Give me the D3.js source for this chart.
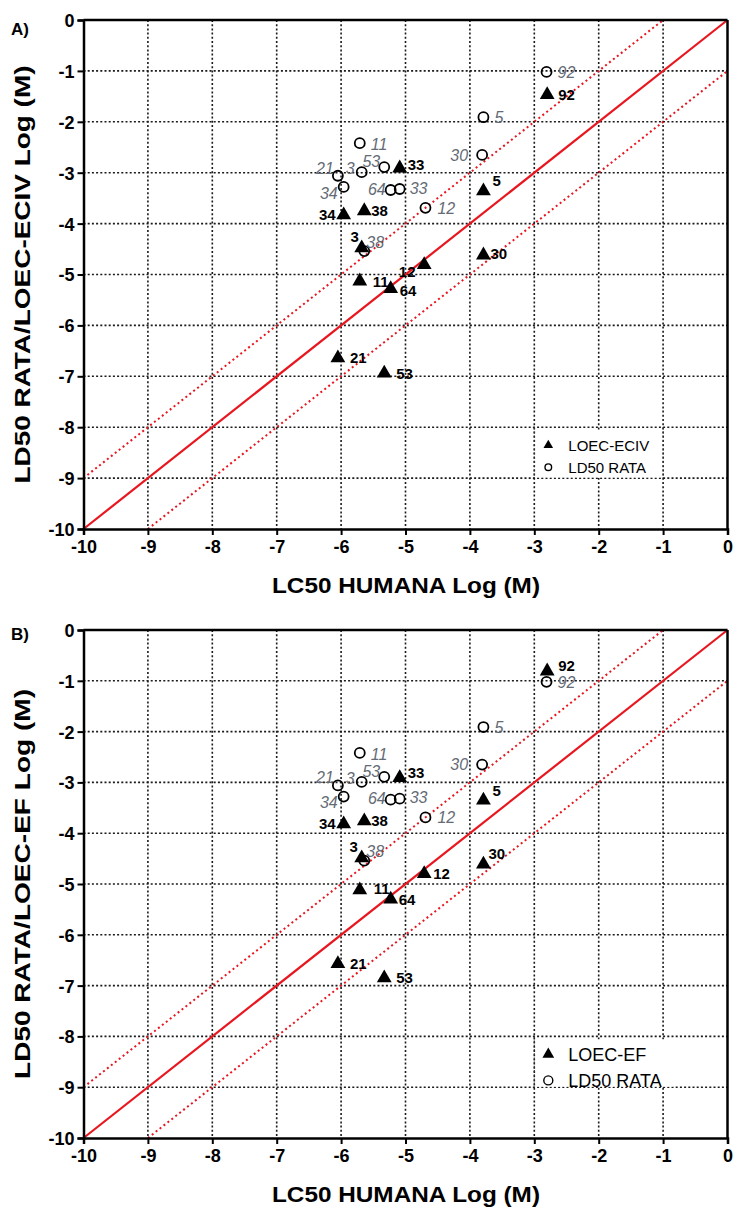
<!DOCTYPE html>
<html>
<head>
<meta charset="utf-8">
<script src="https://cdn.jsdelivr.net/npm/d3@7"></script>
<style>
  html, body { margin: 0; padding: 0; background: #fff; }
  svg { display: block; font-family: "Liberation Sans", Arial, sans-serif; }
</style>
</head>
<body>
<svg id="chart" width="736" height="1207"></svg>
<script>
// Compound identifiers
const compounds = ["92", "5", "33", "34", "38", "3", "12", "30", "11", "64", "21", "53"];

// LC50 human, log(M) — shared x values for both series
const lc50Human = [-2.80, -3.79, -5.09, -5.96, -5.64, -5.68, -4.71, -3.79, -5.71, -5.23, -6.05, -5.33];

// LD50 rat, log(M) (open circles, same in both panels)
const ld50RatX = [-2.81, -3.79, -5.09, -5.96, -5.64, -5.68, -4.69, -3.81, -5.71, -5.23, -6.05, -5.33];
const ld50Rat  = [-1.02, -1.91, -3.32, -3.28, -4.54, -2.99, -3.69, -2.65, -2.42, -3.34, -3.06, -2.89];

// Panel A: LOEC-ECIV, log(M)
const loecEciv = [-1.47, -3.36, -2.91, -3.83, -3.75, -4.48, -4.81, -4.62, -5.13, -5.28, -6.64, -6.94];
// Panel B: LOEC-EF, log(M)
const loecEf   = [-0.81, -3.35, -2.91, -3.82, -3.76, -4.49, -4.80, -4.61, -5.12, -5.30, -6.57, -6.85];

// Axis ticks
const axisTicks = [-10, -9, -8, -7, -6, -5, -4, -3, -2, -1, 0];

// Label offsets (dx, dy, anchor) for filled-triangle labels per panel
const triLabelA = {
  "92": [11, 0, "start"], "5": [9, -10, "start"], "33": [8, -4, "start"], "34": [-8, 0, "end"],
  "38": [7, 0, "start"], "3": [-7, -11, "middle"], "12": [-17, 7, "middle"], "30": [7, -2, "start"],
  "11": [13, 0, "start"], "64": [9, 1.5, "start"], "21": [12, 0, "start"], "53": [12, 0, "start"]
};
const triLabelB = {
  "92": [11, -6, "start"], "5": [9, -10, "start"], "33": [8, -5, "start"], "34": [-8, 0, "end"],
  "38": [7, 0, "start"], "3": [-8, -11, "middle"], "12": [9, 0, "start"], "30": [5, -11, "start"],
  "11": [14, -1, "start"], "64": [8, 0, "start"], "21": [12, 0, "start"], "53": [12, 0, "start"]
};
// Label offsets for open-circle labels
const circLabel = {
  "92": [11, 0, "start"], "5": [11, 0, "start"], "33": [10, -1, "start"], "34": [-6, 6, "end"],
  "38": [2, -9, "start"], "3": [-7, -4, "end"], "12": [12, 0, "start"], "30": [-14, 0, "end"],
  "11": [11, 1, "start"], "64": [-5, -1, "end"], "21": [-4, -8, "end"], "53": [-4, -6, "end"]
};

const svg = d3.select("#chart");

function drawPanel(cfg) {
  const x = d3.scaleLinear().domain([-10, 0]).range([83.5, 727.5]);
  const y = d3.scaleLinear().domain([-10, 0]).range([cfg.bottom, cfg.top]);
  const g = svg.append("g");

  // dotted grid
  const grid = g.append("g");
  grid.selectAll("line.v").data(axisTicks.slice(1, -1)).join("line")
    .attr("x1", d => x(d)).attr("x2", d => x(d))
    .attr("y1", y(0)).attr("y2", y(-10))
    .attr("stroke", "#1a1a1a").attr("stroke-width", 1.6).attr("stroke-dasharray", "2,2.2");
  grid.selectAll("line.h").data(axisTicks.slice(1, -1)).join("line")
    .attr("x1", x(-10)).attr("x2", x(0))
    .attr("y1", d => y(d)).attr("y2", d => y(d))
    .attr("stroke", "#1a1a1a").attr("stroke-width", 1.6).attr("stroke-dasharray", "2,2.2");

  // legend backdrop hides the grid behind it
  g.append("rect")
    .attr("x", x(-3) + 2).attr("y", y(-8) + 3)
    .attr("width", cfg.legendW).attr("height", y(-9) - y(-8) - 3.5)
    .attr("fill", "#fff");
  // thin grid lines kept across the legend backdrop
  g.append("line")
    .attr("x1", x(-3)).attr("x2", x(-3)).attr("y1", y(-8)).attr("y2", y(-9))
    .attr("stroke", "#333").attr("stroke-width", 1.2).attr("stroke-dasharray", "2,2.2");
  if (cfg.keepMinus1) {
    g.append("line")
      .attr("x1", x(-1)).attr("x2", x(-1)).attr("y1", y(-8)).attr("y2", y(-9))
      .attr("stroke", "#333").attr("stroke-width", 1.2).attr("stroke-dasharray", "2,2.2");
  }

  // identity line and ±1 log unit bands
  const red = "#e8161f";
  g.append("line")
    .attr("x1", x(-10)).attr("y1", y(-10)).attr("x2", x(0)).attr("y2", y(0))
    .attr("stroke", red).attr("stroke-width", 2.2);
  g.append("line")
    .attr("x1", x(-10)).attr("y1", y(-9)).attr("x2", x(-1)).attr("y2", y(0))
    .attr("stroke", red).attr("stroke-width", 2).attr("stroke-dasharray", "2,3");
  g.append("line")
    .attr("x1", x(-9)).attr("y1", y(-10)).attr("x2", x(0)).attr("y2", y(-1))
    .attr("stroke", red).attr("stroke-width", 2).attr("stroke-dasharray", "2,3");

  // frame top & right
  g.append("line").attr("x1", x(-10)).attr("x2", x(0)).attr("y1", y(0)).attr("y2", y(0))
    .attr("stroke", "#000").attr("stroke-width", 2.5);
  g.append("line").attr("x1", x(0)).attr("x2", x(0)).attr("y1", y(0)).attr("y2", y(-10))
    .attr("stroke", "#000").attr("stroke-width", 2.5);

  // axes
  const fmt = d => d3.format("d")(d).replace("\u2212", "-");
  const ax = g.append("g").attr("transform", `translate(0,${y(-10)})`)
    .call(d3.axisBottom(x).tickValues(axisTicks).tickSize(6).tickPadding(5).tickFormat(fmt));
  const ay = g.append("g").attr("transform", `translate(${x(-10)},0)`)
    .call(d3.axisLeft(y).tickValues(axisTicks).tickSize(6).tickPadding(3).tickFormat(fmt));
  [ax, ay].forEach(a => {
    a.select(".domain").attr("stroke", "#000").attr("stroke-width", 2.5);
    a.selectAll(".tick line").attr("stroke", "#000").attr("stroke-width", 2);
    a.selectAll(".tick text").attr("fill", "#000")
      .style("font-family", "'Liberation Sans', Arial, sans-serif")
      .style("font-size", "18px").style("font-weight", "bold");
  });
  ay.selectAll(".tick text").attr("dy", "0.36em");

  // axis titles
  g.append("text")
    .attr("x", 406).attr("y", y(-10) + 64)
    .attr("text-anchor", "middle").attr("font-size", 22).attr("font-weight", "bold")
    .attr("textLength", 268).attr("lengthAdjust", "spacingAndGlyphs")
    .text("LC50 HUMANA Log (M)");
  g.append("text")
    .attr("transform", `translate(30,${(y(0) + y(-10)) / 2}) rotate(-90)`)
    .attr("text-anchor", "middle").attr("font-size", 22).attr("font-weight", "bold")
    .attr("textLength", cfg.yTitleLen).attr("lengthAdjust", "spacingAndGlyphs")
    .text(cfg.yTitle);

  // panel tag
  g.append("text").attr("x", 11).attr("y", cfg.top + cfg.tagDy)
    .attr("font-size", 17).attr("font-weight", "bold").text(cfg.tag);

  // open circles: LD50 rat
  const circData = compounds.map((c, i) => ({ c, x: ld50RatX[i], y: ld50Rat[i] }));
  g.selectAll("circle.rat").data(circData).join("circle")
    .attr("cx", d => x(d.x)).attr("cy", d => y(d.y)).attr("r", 5)
    .attr("fill", "none").attr("stroke", "#000").attr("stroke-width", 1.8);
  g.selectAll("text.rat").data(circData).join("text")
    .attr("x", d => x(d.x) + circLabel[d.c][0])
    .attr("y", d => y(d.y) + circLabel[d.c][1])
    .attr("dy", "0.36em").attr("text-anchor", d => circLabel[d.c][2])
    .attr("font-size", 16).attr("font-style", "italic").attr("fill", "#646b75")
    .text(d => d.c);

  // filled triangles: LOEC
  const triData = compounds.map((c, i) => ({ c, x: lc50Human[i], y: cfg.loec[i] }));
  const tri = d3.symbol().type(d3.symbolTriangle).size(95);
  g.selectAll("path.loec").data(triData).join("path")
    .attr("transform", d => `translate(${x(d.x)},${y(d.y)})`)
    .attr("d", tri).attr("fill", "#000");
  g.selectAll("text.loec").data(triData).join("text")
    .attr("x", d => x(d.x) + cfg.triLabel[d.c][0])
    .attr("y", d => y(d.y) + cfg.triLabel[d.c][1])
    .attr("dy", "0.36em").attr("text-anchor", d => cfg.triLabel[d.c][2])
    .attr("font-size", 15).attr("font-weight", "bold").attr("fill", "#000")
    .text(d => d.c);

  // legend
  const lx = x(-3) + 14;
  const ly1 = y(-8) + cfg.legRow1, ly2 = y(-8) + cfg.legRow2;
  g.append("path").attr("transform", `translate(${lx},${ly1})`)
    .attr("d", d3.symbol().type(d3.symbolTriangle).size(cfg.legTri)).attr("fill", "#000");
  g.append("circle").attr("cx", lx).attr("cy", ly2).attr("r", cfg.legR)
    .attr("fill", "none").attr("stroke", "#000").attr("stroke-width", 1.4);
  g.append("text").attr("x", lx + 20).attr("y", ly1).attr("dy", "0.36em")
    .attr("font-size", cfg.legFont).text(cfg.legName);
  g.append("text").attr("x", lx + 20).attr("y", ly2).attr("dy", "0.36em")
    .attr("font-size", cfg.legFont).text("LD50 RATA");
}

drawPanel({
  top: 20, bottom: 529, tag: "A)", tagDy: 15,
  yTitle: "LD50 RATA/LOEC-ECIV Log (M)", yTitleLen: 418, loec: loecEciv, triLabel: triLabelA,
  legName: "LOEC-ECIV", legFont: 15, legTri: 40, legR: 3.3, legRow1: 18, legRow2: 40,
  legendW: 126, keepMinus1: true
});
drawPanel({
  top: 630, bottom: 1138, tag: "B)", tagDy: 10,
  yTitle: "LD50 RATA/LOEC-EF Log (M)", yTitleLen: 390, loec: loecEf, triLabel: triLabelB,
  legName: "LOEC-EF", legFont: 18, legTri: 60, legR: 4.5, legRow1: 18, legRow2: 44,
  legendW: 137, keepMinus1: false
});
</script>
</body>
</html>
